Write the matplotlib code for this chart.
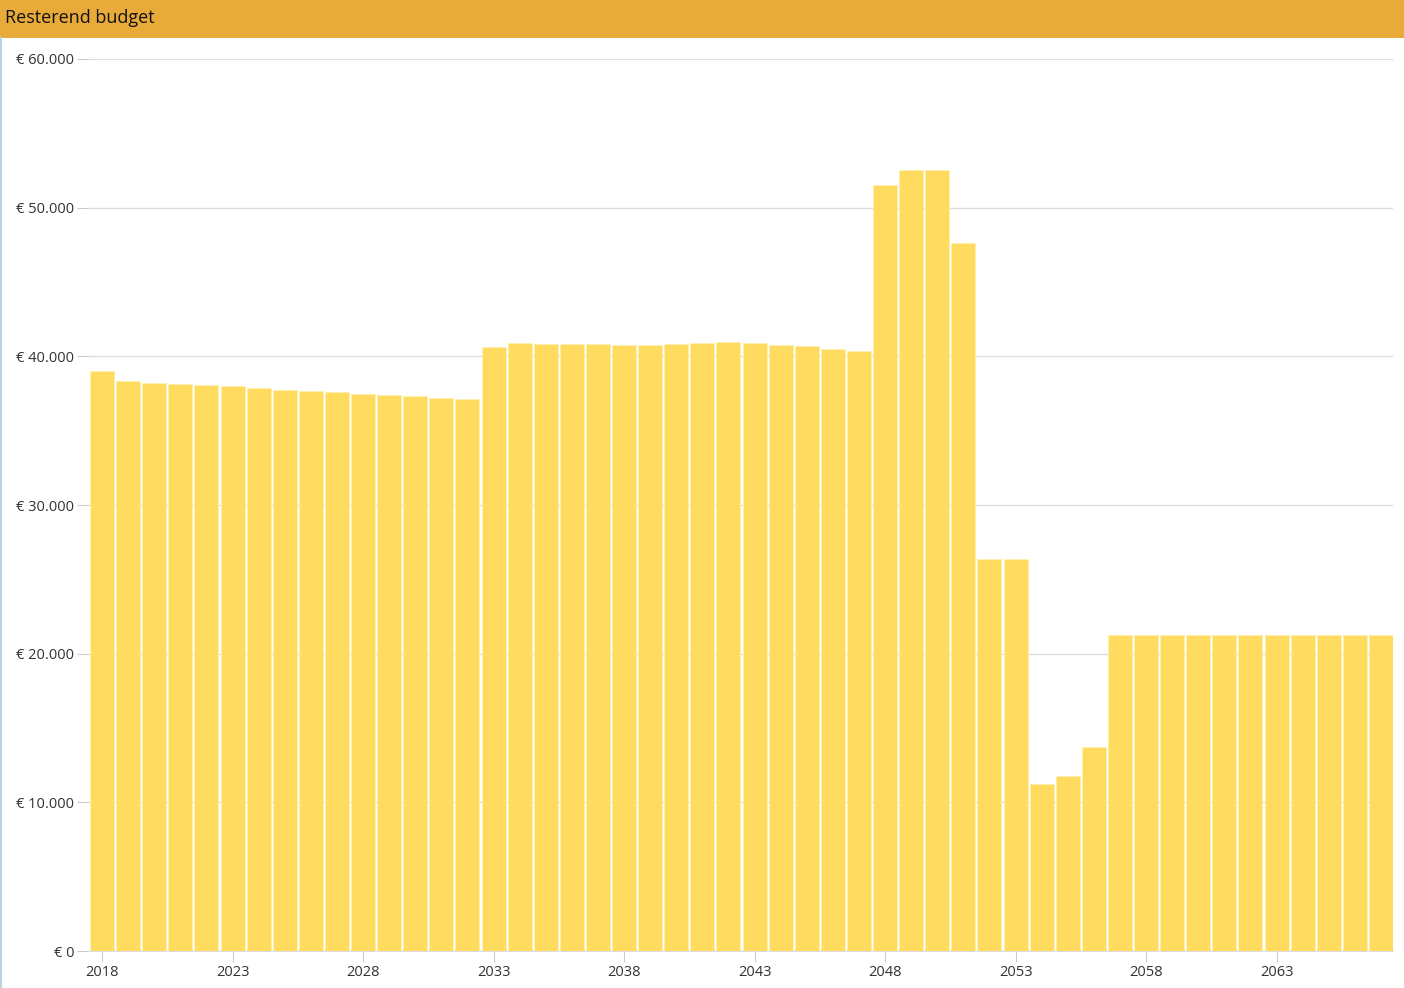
import matplotlib.pyplot as plt
from matplotlib.ticker import FuncFormatter
from matplotlib.patches import Rectangle
from matplotlib.lines import Line2D

years = list(range(2018, 2068))
budget = [39000, 38340, 38210, 38140, 38070, 38000, 37870, 37740, 37670, 37600,
          37470, 37400, 37330, 37200, 37130, 40630, 40900, 40830, 40830, 40830,
          40760, 40760, 40830, 40900, 40960, 40900, 40760, 40700, 40490, 40360,
          51530, 52530, 52530, 47620, 26370, 26370, 11230, 11770, 13720, 21260,
          21260, 21260, 21260, 21260, 21260, 21260, 21260, 21260, 21260, 21260]
tick_years = [2018, 2023, 2028, 2033, 2038, 2043, 2048, 2053, 2058, 2063]
title = 'Resterend budget'

plt.rcParams['font.family'] = ['Open Sans', 'DejaVu Sans']

fig = plt.figure(figsize=(14.04, 9.88), dpi=100)
W, H = 1404, 988

# header band
fig.patches.append(Rectangle((0, 1 - 38 / H), 1, 38 / H, transform=fig.transFigure,
                             facecolor='#e8ab3a', edgecolor='none', zorder=0))
fig.text(5 / W, 1 - 18 / H, title, fontsize=13, color='#111111', va='center', ha='left')
fig.lines.append(Line2D([0.5 / W, 0.5 / W], [0, 1 - 38 / H], transform=fig.transFigure,
                        color='#b9d3e0', lw=1.5))

ax = fig.add_axes([88 / W, 37 / H, (1393 - 88) / W, (951 - 59) / H])
ax.bar(years, budget, width=0.92, color='#ffdc5f', edgecolor='#fff0b0', linewidth=0.6, zorder=2)

ax.set_ylim(0, 60000)
ax.set_xlim(2017.46, 2067.46)
ax.set_yticks(range(0, 60001, 10000))
ax.yaxis.set_major_formatter(FuncFormatter(lambda v, p: '€ ' + format(int(v), ',').replace(',', '.')))
ax.set_xticks(tick_years)

ax.grid(axis='y', color='#dddddd', lw=1, zorder=0)
for s in ['top', 'right', 'left']:
    ax.spines[s].set_visible(False)
ax.spines['bottom'].set_color('#dddddd')
ax.tick_params(axis='y', length=8, color='#cccccc', labelsize=10.5, labelcolor='#333333', pad=2)
ax.tick_params(axis='x', length=8, color='#cccccc', labelsize=10.5, labelcolor='#333333', pad=2)

fig.savefig('out.png', dpi=100)
